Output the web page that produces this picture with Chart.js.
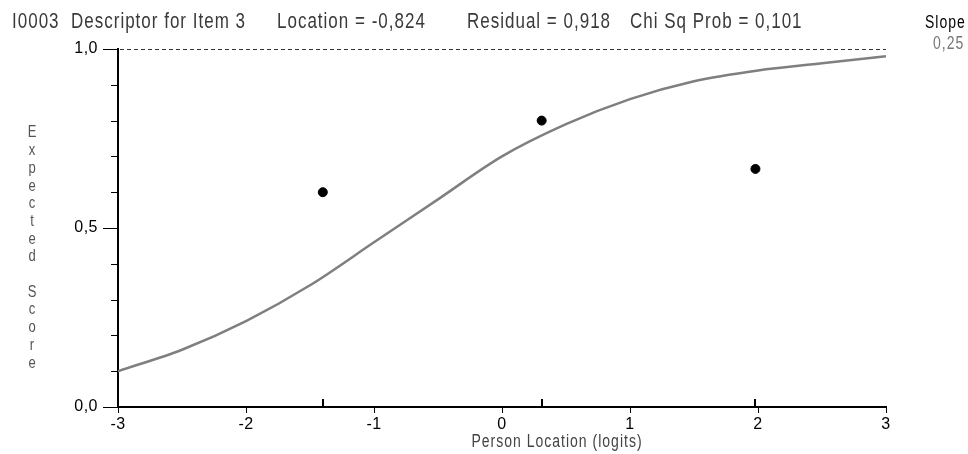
<!DOCTYPE html>
<html>
<head>
<meta charset="utf-8">
<script src="https://cdn.jsdelivr.net/npm/chart.js@4.4.1/dist/chart.umd.min.js"></script>
<style>
  html, body { margin: 0; padding: 0; background: #fff; }
  #wrap { width: 968px; height: 454px; position: relative; }
</style>
</head>
<body>
<div id="wrap"><canvas id="icc"></canvas></div>
<script>
// expected value curve
const curveX = [-3, -2.5, -2, -1.5, -1, -0.5, 0, 0.5, 1, 1.5, 2, 2.5, 3];
const curveY = [0.10, 0.16, 0.24, 0.34, 0.46, 0.58, 0.70, 0.79, 0.86, 0.91, 0.94, 0.96, 0.98];

// observed class means
const obsX = [-1.40, 0.31, 1.98];
const obsY = [0.60, 0.80, 0.665];

const xTicks = [-3, -2, -1, 0, 1, 2, 3];
const yLabels = { '0': '0,0', '0.5': '0,5', '1': '1,0' };

const titleParts = [
  { text: 'I0003  Descriptor for Item 3', x: 12 },
  { text: 'Location = -0,824', x: 277 },
  { text: 'Residual = 0,918', x: 467 },
  { text: 'Chi Sq Prob = 0,101', x: 630 }
];
const yTitle = 'Expected Score';
const xTitle = 'Person Location (logits)';

const FONT = 'Arial, "Liberation Sans", sans-serif';

// text a bit taller than wide, like the old screen font
function drawText(c, text, x, y, size, color, align, spacing) {
  c.save();
  c.font = size + 'px ' + FONT;
  c.fillStyle = color;
  c.textAlign = align;
  c.textBaseline = 'middle';
  c.letterSpacing = spacing + 'px';
  c.translate(x, y);
  c.scale(1, 1.25);
  c.fillText(text, 0, 0);
  c.restore();
}

// extras: header, dashed 1.0 line, minor y ticks, class interval marks, axis titles
const extras = {
  id: 'extras',
  beforeDraw(chart) {
    chart.ctx.letterSpacing = '0.5px';
  },
  afterDraw(chart) {
    const c = chart.ctx;
    const a = chart.chartArea;
    const xs = chart.scales.x;
    const ys = chart.scales.y;
    c.save();

    // header
    titleParts.forEach(p => drawText(c, p.text, p.x, 22.5, 17, '#3a3a3a', 'left', 1));
    drawText(c, 'Slope', 925, 23.5, 14, '#000', 'left', 1);
    drawText(c, '0,25', 933, 44, 14, '#777', 'left', 1);

    // dashed top line
    const y1 = ys.getPixelForValue(1);
    c.strokeStyle = '#333';
    c.lineWidth = 1;
    c.setLineDash([4, 3]);
    c.beginPath();
    c.moveTo(a.left + 2, y1 + 0.5);
    c.lineTo(a.right, y1 + 0.5);
    c.stroke();
    c.setLineDash([]);

    // minor ticks on y axis
    c.strokeStyle = '#000';
    c.lineWidth = 1;
    ys.ticks.forEach(t => {
      const py = Math.round(ys.getPixelForValue(t.value)) + 0.5;
      c.beginPath();
      c.moveTo(a.left - 7, py);
      c.lineTo(a.left, py);
      c.stroke();
    });

    // class interval marks on x axis
    c.lineWidth = 2;
    obsX.forEach(v => {
      const px = Math.round(xs.getPixelForValue(v));
      c.beginPath();
      c.moveTo(px, a.bottom - 8);
      c.lineTo(px, a.bottom);
      c.stroke();
    });

    // y title, letters stacked
    let ty = 133;
    for (const ch of yTitle) {
      if (ch !== ' ') drawText(c, ch, 32, ty, 13, '#555', 'center', 0);
      ty += 17.7;
    }

    // x title
    drawText(c, xTitle, 557, 442, 14, '#444', 'center', 1);
    c.restore();
  }
};

new Chart(document.getElementById('icc'), {
  type: 'scatter',
  data: {
    datasets: [
      {
        label: 'ICC',
        data: curveX.map((x, i) => ({ x: x, y: curveY[i] })),
        showLine: true,
        borderColor: '#7f7f7f',
        borderWidth: 2.5,
        pointRadius: 0,
        cubicInterpolationMode: 'monotone',
        order: 2
      },
      {
        label: 'Observed',
        data: obsX.map((x, i) => ({ x: x, y: obsY[i] })),
        showLine: false,
        pointRadius: 4.5,
        pointBackgroundColor: '#000',
        pointBorderColor: '#000',
        order: 1
      }
    ]
  },
  options: {
    responsive: true,
    maintainAspectRatio: false,
    animation: false,
    layout: { padding: { top: 49, right: 82, left: 0, bottom: 0 } },
    plugins: {
      legend: { display: false },
      tooltip: { enabled: false }
    },
    scales: {
      x: {
        type: 'linear',
        min: -3,
        max: 3,
        afterFit(s) { s.height = 47; },
        afterBuildTicks(s) { s.ticks = xTicks.map(v => ({ value: v })); },
        ticks: {
          color: '#000',
          font: { family: FONT, size: 16 },
          padding: 2,
          maxRotation: 0,
          callback: v => String(v)
        },
        grid: { drawOnChartArea: false, tickLength: 6, tickColor: '#000', tickWidth: 1 },
        border: { color: '#000', width: 2 }
      },
      y: {
        type: 'linear',
        min: 0,
        max: 1,
        afterFit(s) { s.width = 118; },
        ticks: {
          stepSize: 0.1,
          color: '#000',
          font: { family: FONT, size: 16 },
          padding: 5,
          autoSkip: false,
          callback: v => yLabels[String(Math.round(v * 10) / 10)] || ''
        },
        grid: {
          drawOnChartArea: false,
          tickLength: 15,
          tickWidth: 1,
          tickColor: ctx => (yLabels[String(Math.round(ctx.tick.value * 10) / 10)] ? '#000' : 'rgba(0,0,0,0)')
        },
        border: { color: '#000', width: 2 }
      }
    }
  },
  plugins: [extras]
});
</script>
</body>
</html>
